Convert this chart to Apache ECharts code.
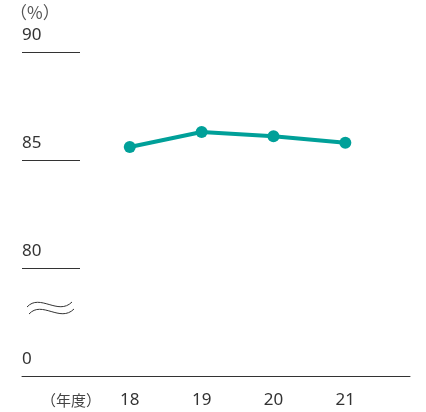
<!DOCTYPE html>
<html><head><meta charset="utf-8">
<script src="https://cdn.jsdelivr.net/npm/echarts@6/dist/echarts.min.js"></script>
<style>html,body{margin:0;padding:0;background:#fff}#c{width:426px;height:412px}</style>
</head><body><div id="c"></div>
<script>
const categories = ['18', '19', '20', '21'];
const values = [85.6, 86.3, 86.1, 85.8];
const yTicks = [75, 80, 85, 90];
const yTickLabels = ['0', '80', '85', '90'];
const unitLabel = '（%）';
const xUnitLabel = '（年度）';

const chart = echarts.init(document.getElementById('c'), null, {renderer: 'canvas'});
const font = '"Noto Sans", Roboto, sans-serif';
chart.setOption({
  animation: false,
  grid: {left: 22, right: 16, top: 52, bottom: 36},
  title: {
    text: xUnitLabel, left: 36, top: 388,
    textStyle: {fontSize: 15, fontWeight: 'normal', color: '#444', fontFamily: '"Noto Sans CJK JP", sans-serif'}
  },
  xAxis: {
    type: 'value', min: 16.5, max: 21.9,
    axisLine: {show: true, lineStyle: {color: '#333', width: 1}},
    axisTick: {show: false},
    splitLine: {show: false},
    axisLabel: {
      customValues: categories.map(Number),
      formatter: v => String(v),
      fontSize: 17, color: '#333', margin: 16, fontFamily: font
    }
  },
  yAxis: {
    type: 'value', min: 75, max: 90, interval: 5,
    name: unitLabel, nameLocation: 'end', nameGap: 31,
    nameTextStyle: {align: 'left', verticalAlign: 'bottom', fontSize: 17, color: '#555', padding: [0, 0, 0, -12], fontFamily: '"Noto Sans CJK JP", sans-serif'},
    axisLine: {show: false},
    axisTick: {show: true, inside: true, length: 58, lineStyle: {color: '#333', width: 1}},
    splitLine: {show: false},
    axisLabel: {
      inside: true, margin: 0, align: 'left', verticalAlign: 'bottom',
      padding: [0, 0, 8, 0],
      fontSize: 17, color: '#333', fontFamily: font,
      formatter: v => yTickLabels[yTicks.indexOf(v)]
    }
  },
  graphic: [{
    type: 'bezierCurve',
    shape: {x1: 27, y1: 307, cpx1: 40, cpy1: 293, cpx2: 58, cpy2: 316, x2: 72, y2: 302},
    style: {fill: null, stroke: '#333', lineWidth: 1}
  }, {
    type: 'bezierCurve',
    shape: {x1: 29, y1: 314, cpx1: 42, cpy1: 300, cpx2: 60, cpy2: 323, x2: 74, y2: 309},
    style: {fill: null, stroke: '#333', lineWidth: 1}
  }],
  series: [{
    type: 'line',
    data: categories.map((c, i) => [Number(c), values[i]]),
    symbol: 'circle', symbolSize: 12,
    lineStyle: {color: '#00a099', width: 4},
    itemStyle: {color: '#00a099'}
  }]
});
</script></body></html>
